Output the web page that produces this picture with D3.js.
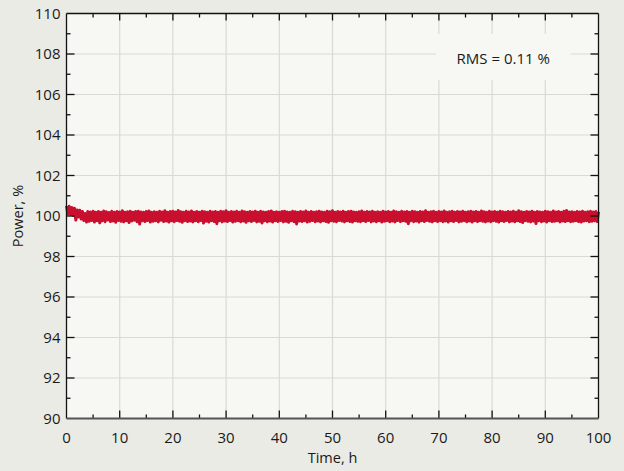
<!DOCTYPE html>
<html><head><meta charset="utf-8">
<script src="https://cdn.jsdelivr.net/npm/d3@7"></script>
<style>
html,body{margin:0;padding:0;background:#ebebe5;}
svg{display:block;font-family:"Open Sans","Noto Sans",sans-serif;}
</style></head>
<body>
<svg id="chart" width="624" height="471"></svg>
<script>
// ---- data ----
const timeStart = 0, timeStep = 0.25;   // sampling grid, h
const power = [
100.50,100.10,100.48,100.08,100.42,100.02,100.38,99.80,100.30,99.95,100.28,99.85,100.22,99.78,100.12,99.70,100.22,
99.74,100.20,99.78,100.24,99.70,100.18,99.76,100.22,99.66,100.19,99.77,100.25,99.72,100.21,99.80,100.17,
99.73,100.23,99.75,100.19,99.69,100.22,99.78,100.20,99.74,100.26,99.71,100.18,99.77,100.21,99.68,100.23,
99.75,100.19,99.79,100.22,99.72,100.24,99.60,100.20,99.76,100.18,99.73,100.22,99.78,100.25,99.70,100.19,
99.74,100.21,99.77,100.18,99.71,100.23,99.79,100.20,99.73,100.26,99.75,100.19,99.70,100.22,99.76,100.24,
99.72,100.20,99.78,100.27,99.74,100.21,99.69,100.19,99.77,100.23,99.73,100.20,99.75,100.25,99.71,100.18,
99.76,100.22,99.72,100.19,99.78,100.24,99.65,100.21,99.74,100.18,99.70,100.23,99.77,100.20,99.73,100.22,
99.62,100.19,99.76,100.24,99.71,100.21,99.75,100.26,99.73,100.18,99.78,100.22,99.70,100.20,99.74,100.23,
99.77,100.19,99.72,100.25,99.75,100.21,99.69,100.18,99.76,100.22,99.73,100.20,99.78,100.24,99.71,100.19,
99.74,100.23,99.66,100.20,99.77,100.18,99.72,100.22,99.75,100.25,99.70,100.19,99.76,100.21,99.73,100.18,
99.78,100.22,99.71,100.24,99.74,100.20,99.69,100.19,99.76,100.23,99.72,100.21,99.61,100.18,99.75,100.22,
99.73,100.20,99.77,100.25,99.70,100.19,99.74,100.22,99.78,100.18,99.72,100.21,99.75,100.24,99.71,100.20,
99.76,100.19,99.73,100.23,99.69,100.21,99.77,100.26,99.74,100.18,99.72,100.22,99.78,100.20,99.75,100.23,
99.71,100.19,99.76,100.22,99.73,100.24,99.70,100.20,99.77,100.18,99.74,100.21,99.72,100.25,99.76,100.19,
99.73,100.22,99.78,100.20,99.71,100.23,99.75,100.19,99.72,100.21,99.76,100.18,99.70,100.24,99.74,100.20,
99.77,100.22,99.72,100.19,99.75,100.25,99.71,100.21,99.78,100.18,99.73,100.23,99.76,100.20,99.74,100.22,
99.62,100.19,99.77,100.24,99.72,100.21,99.75,100.18,99.70,100.22,99.76,100.20,99.73,100.26,99.78,100.19,
99.74,100.21,99.71,100.23,99.76,100.19,99.73,100.22,99.77,100.20,99.72,100.25,99.75,100.18,99.70,100.21,
99.76,100.23,99.73,100.19,99.78,100.22,99.71,100.20,99.74,100.24,99.77,100.18,99.72,100.21,99.75,100.23,
99.70,100.20,99.76,100.22,99.73,100.19,99.77,100.25,99.74,100.21,99.71,100.18,99.75,100.23,99.72,100.20,
99.77,100.22,99.74,100.19,99.70,100.24,99.76,100.21,99.73,100.18,99.78,100.22,99.71,100.20,99.75,100.23,
99.72,100.19,99.76,100.26,99.73,100.21,99.68,100.18,99.77,100.22,99.74,100.20,99.71,100.24,99.75,100.19,
99.63,100.22,99.76,100.20,99.72,100.18,99.75,100.23,99.70,100.21,99.77,100.19,99.73,100.25,99.74,100.20,
99.76,100.22,99.71,100.19,99.75,100.23,99.73,100.27,99.77,100.20,99.72,100.21,99.74,100.18,99.76,100.22,
99.73,100.20,99.70,100.24,99.75,100.19,99.77,100.21,99.72,100.23,99.74,100.20,99.76,100.22,99.73,100.21
];
const xTicks = [0,10,20,30,40,50,60,70,80,90,100];
const yTicks = [90,92,94,96,98,100,102,104,106,108,110];
const xLabel = "Time, h";
const yLabel = "Power, %";
const annotation = "RMS = 0.11 %";

// ---- layout ----
const svg = d3.select("#chart");
const L = 66.5, R = 598.5, T = 13.5, B = 418.5;
const x = d3.scaleLinear().domain([0,100]).range([L,R]);
const y = d3.scaleLinear().domain([90,110]).range([B,T]);
const textColor = "#1a1a1a";
const fs = "15px";

svg.append("rect").attr("width",624).attr("height",471).attr("fill","#ebebe5");
svg.append("rect").attr("x",L).attr("y",T).attr("width",R-L).attr("height",B-T).attr("fill","#f7f7f3");

// grid
const grid = svg.append("g").attr("stroke","#d9d9d6").attr("stroke-width",1.2);
xTicks.slice(1,-1).forEach(v=>grid.append("line").attr("x1",x(v)).attr("x2",x(v)).attr("y1",T).attr("y2",B));
yTicks.slice(1,-1).forEach(v=>grid.append("line").attr("y1",y(v)).attr("y2",y(v)).attr("x1",L).attr("x2",R));

// annotation background
const boxW = 135, boxH = 46;
svg.append("rect").attr("x",x(69.4)).attr("y",y(109.0)).attr("width",boxW).attr("height",boxH).attr("fill","#f7f7f3");
svg.append("text").attr("x",x(69.4)+boxW/2).attr("y",y(109.0)+30).attr("text-anchor","middle")
  .attr("font-size","15px").attr("fill",textColor).text(annotation);

// data line
const line = d3.line().x((d,i)=>x(timeStart+i*timeStep)).y(d=>y(d));
svg.append("path").datum(power).attr("d",line).attr("fill","none")
  .attr("stroke","#c8102e").attr("stroke-width",3).attr("stroke-linejoin","round");

// ticks (inward, all four sides)
const tk = svg.append("g").attr("stroke","#111").attr("stroke-width",1.3);
const xMinor = d3.range(5,100,10);
const yMinor = d3.range(91,110,2);
xTicks.slice(1,-1).forEach(v=>{
  tk.append("line").attr("x1",x(v)).attr("x2",x(v)).attr("y1",B).attr("y2",B-8);
  tk.append("line").attr("x1",x(v)).attr("x2",x(v)).attr("y1",T).attr("y2",T+7);
});
xMinor.forEach(v=>{
  tk.append("line").attr("x1",x(v)).attr("x2",x(v)).attr("y1",B).attr("y2",B-4);
  tk.append("line").attr("x1",x(v)).attr("x2",x(v)).attr("y1",T).attr("y2",T+4);
});
yTicks.slice(1,-1).forEach(v=>{
  tk.append("line").attr("y1",y(v)).attr("y2",y(v)).attr("x1",L).attr("x2",L+8);
  tk.append("line").attr("y1",y(v)).attr("y2",y(v)).attr("x1",R).attr("x2",R-8);
});
yMinor.forEach(v=>{
  tk.append("line").attr("y1",y(v)).attr("y2",y(v)).attr("x1",L).attr("x2",L+4);
  tk.append("line").attr("y1",y(v)).attr("y2",y(v)).attr("x1",R).attr("x2",R-4);
});

// frame
svg.append("line").attr("x1",L).attr("x2",R).attr("y1",T).attr("y2",T).attr("stroke","#111").attr("stroke-width",1.3);
svg.append("line").attr("x1",L).attr("x2",L).attr("y1",T).attr("y2",B).attr("stroke","#111").attr("stroke-width",1.3);
svg.append("line").attr("x1",R).attr("x2",R).attr("y1",T).attr("y2",B).attr("stroke","#111").attr("stroke-width",1.3);
svg.append("line").attr("x1",L).attr("x2",R).attr("y1",B).attr("y2",B).attr("stroke","#555").attr("stroke-width",2);

// tick labels
svg.append("g").selectAll("text").data(xTicks).join("text")
  .attr("x",d=>x(d)).attr("y",B+24).attr("text-anchor","middle")
  .attr("font-size",fs).attr("fill",textColor).text(d=>d);
svg.append("g").selectAll("text").data(yTicks).join("text")
  .attr("x",L-6).attr("y",d=>y(d)).attr("dy","0.36em").attr("text-anchor","end")
  .attr("font-size",fs).attr("fill",textColor).text(d=>d);

// axis titles
svg.append("text").attr("x",(L+R)/2).attr("y",463).attr("text-anchor","middle")
  .attr("font-size","14.5px").attr("fill",textColor).text(xLabel);
svg.append("text").attr("transform",`translate(23,${(T+B)/2}) rotate(-90)`).attr("text-anchor","middle")
  .attr("font-size","14.5px").attr("fill",textColor).text(yLabel);
</script>
</body></html>
